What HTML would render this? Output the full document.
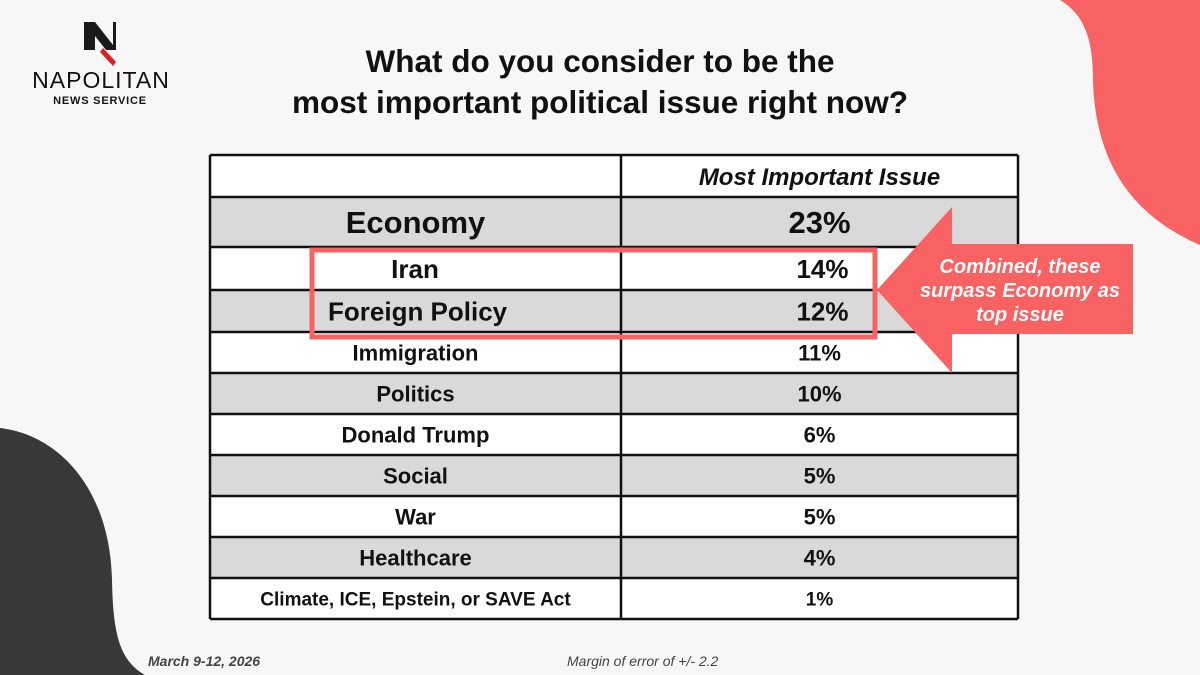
<!DOCTYPE html>
<html><head><meta charset="utf-8"><style>
body{margin:0;width:1200px;height:675px;overflow:hidden;background:#f7f7f7;font-family:"Liberation Sans",sans-serif;}
svg{display:block}
.c{font-family:"Liberation Sans",sans-serif;font-weight:bold;fill:#111;}
</style></head><body>
<svg width="1200" height="675" viewBox="0 0 1200 675">
<path d="M1060,0 C1085,15 1093,40 1093,80 C1095,160 1130,215 1200,245 L1200,0 Z" fill="#f96262"/>
<path d="M0,428 C60,435 110,490 112,580 C113,630 118,660 145,675 L0,675 Z" fill="#383838"/>
<g>
<path d="M84,22 L95,22 L113,45 L113,22 L116,22 L116,50 L106,50 L95,36 L95,50 L84,50 Z" fill="#1a1a1a"/>
<path d="M103,48 L116,62 L113,66 L100,52 Z" fill="#e21c23"/>
<text x="101" y="88" text-anchor="middle" font-size="23" fill="#111" letter-spacing="1">NAPOLITAN</text>
<text x="100" y="104" text-anchor="middle" font-size="11" font-weight="bold" fill="#111" letter-spacing="0.8">NEWS SERVICE</text>
</g>
<text x="600" y="72" text-anchor="middle" font-size="31.5" font-weight="bold" fill="#111">What do you consider to be the</text>
<text x="600" y="113" text-anchor="middle" font-size="31.5" font-weight="bold" fill="#111">most important political issue right now?</text>
<g id="table"></g>
<rect x="312" y="250" width="563" height="87" fill="none" stroke="#f96262" stroke-width="5"/>
<path d="M877,290 L952,207 L952,244 L1133,244 L1133,334 L952,334 L952,373 Z" fill="#f96262"/>
<g font-size="20" font-weight="bold" font-style="italic" fill="#fff" text-anchor="middle">
<text x="1020" y="273">Combined, these</text>
<text x="1020" y="297">surpass Economy as</text>
<text x="1020" y="321">top issue</text>
</g>
<text x="148" y="666" font-size="14" font-weight="bold" font-style="italic" fill="#444">March 9-12, 2026</text>
<text x="567" y="666" font-size="14" font-style="italic" fill="#444">Margin of error of +/- 2.2</text>
</svg>
<script>
const categories=["Economy","Iran","Foreign Policy","Immigration","Politics","Donald Trump","Social","War","Healthcare","Climate, ICE, Epstein, or SAVE Act"];
const values=[23,14,12,11,10,6,5,5,4,1];
const rowTops=[197,247,290,332,373,414,455,496,537,578,619];
const shaded=[true,false,true,false,true,false,true,false,true,false];
const labelSizes=[31,26,26,22,22,22,22,22,22,19];
const valueSizes=[31,26,26,22,22,22,22,22,22,19];
const NS="http://www.w3.org/2000/svg";
const g=document.getElementById('table');
function mk(t,a){const e=document.createElementNS(NS,t);for(const k in a)e.setAttribute(k,a[k]);return e;}
const L=210,R=1018,M=621;
let h=mk('rect',{x:L,y:155,width:R-L,height:42,fill:'#fff'});


g.appendChild(h);
let ht=mk('text',{x:(M+R)/2,y:185,'text-anchor':'middle','font-size':24,'font-style':'italic',class:'c'});
ht.textContent="Most Important Issue";


g.appendChild(ht);
categories.forEach((c,i)=>{
  const y0=rowTops[i],y1=rowTops[i+1],cy=(y0+y1)/2;
  const r=mk('rect',{x:L,y:y0,width:R-L,height:y1-y0,fill:shaded[i]?'#d9d9d9':'#fff'});
  
  
  g.appendChild(r);
  const lx=(i===2)?328:(i===1?415:(L+M)/2), anc=(i===2)?'start':'middle';
  const t=mk('text',{x:lx,y:cy+labelSizes[i]*0.36,'text-anchor':anc,'font-size':labelSizes[i],class:'c'});
  t.textContent=c;
  
  
  g.appendChild(t);
  const v=mk('text',{x:(M+R)/2+(i===1||i===2?3:0),y:cy+valueSizes[i]*0.36,'text-anchor':'middle','font-size':valueSizes[i],class:'c'});
  v.textContent=values[i]+'%';
  
  
  g.appendChild(v);
});
[155].concat(rowTops).forEach(y=>{g.appendChild(mk('line',{x1:L,x2:R,y1:y,y2:y,stroke:'#111','stroke-width':2.5}));});
[L,M,R].forEach(x=>{g.appendChild(mk('line',{x1:x,x2:x,y1:155,y2:619,stroke:'#111','stroke-width':2.5}));});
</script>
</body></html>
